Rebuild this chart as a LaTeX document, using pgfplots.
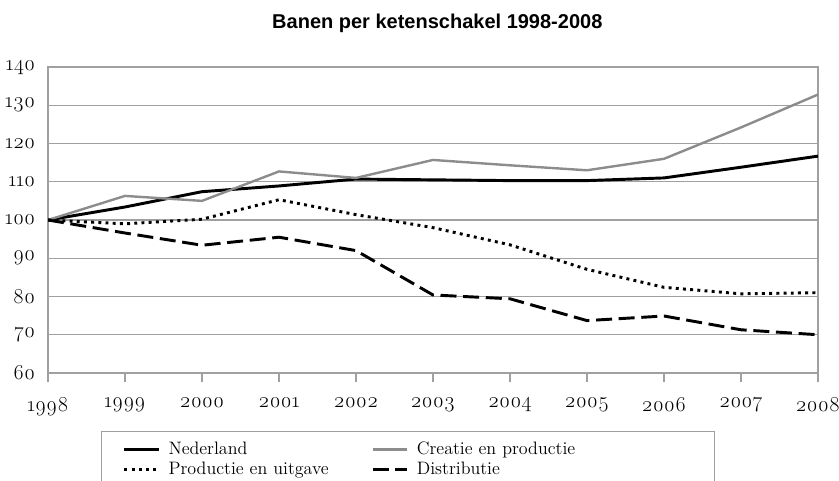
\documentclass[border=0pt]{standalone}
\usepackage{fontspec}
\setmainfont{Latin Modern Roman}[Numbers=OldStyle]
\newfontfamily\titlefont{Liberation Sans}
\usepackage{pgfplots}
\pgfplotsset{compat=1.18}
\definecolor{gridgray}{RGB}{160,160,160}
\definecolor{linegray}{RGB}{140,140,140}
\begin{document}
\begin{tikzpicture}
\begin{axis}[
  scale only axis,
  width=577.5pt, height=229.5pt,
  at={(36pt,81pt)}, anchor=south west,
  xmin=1998, xmax=2008, ymin=60, ymax=140,
  xtick={1998,...,2008}, ytick={60,70,...,140},
  xtick pos=lower,
  /pgf/number format/assume math mode=true,
  xticklabel={\pgfmathprintnumber[1000 sep={}]{\tick}},
  yticklabel={\pgfmathprintnumber{\tick}},
  ticklabel style={font=\fontsize{16}{18}\selectfont},
  axis line style={gridgray, line width=1pt},
  ymajorgrids, major grid style={gridgray, line width=1pt},
  xtick style={gridgray, line width=1pt},
  ytick style={draw=none},
  x tick label style={yshift=-8pt},
  y tick label style={xshift=1pt},
  tick align=outside, major tick length=7pt,
  legend columns=2,
  legend cell align=left,
  legend style={
    at={(0.0688,-0.1895)}, anchor=north west,
    draw=gridgray, line width=1pt,
    font=\fontsize{13.5}{15}\selectfont,
    inner xsep=16pt, inner ysep=6pt,
    row sep=0pt,
    /tikz/column 1/.style={column sep=4pt},
    /tikz/column 2/.style={column sep=0pt, nodes={text width=150pt}},
    /tikz/column 3/.style={column sep=4pt},
    /tikz/column 4/.style={nodes={text width=205pt}},
  },
  legend image code/.code={\draw[#1] (0pt,0pt) -- (26pt,0pt);},
]
\addplot[black, line width=2.2pt] coordinates {
(1998,100) (1999,103.4) (2000,107.4) (2001,108.9) (2002,110.7) (2003,110.5) (2004,110.3) (2005,110.3) (2006,111.0) (2007,113.8) (2008,116.7)};
\addlegendentry{Nederland}
\addplot[linegray, line width=1.8pt] coordinates {
(1998,100) (1999,106.3) (2000,105.0) (2001,112.7) (2002,111.0) (2003,115.7) (2004,114.3) (2005,113.0) (2006,116.0) (2007,124.2) (2008,132.8)};
\addlegendentry{Creatie en productie}
\addplot[black, line width=2.2pt, dash pattern=on 2.2pt off 3.2pt] coordinates {
(1998,100) (1999,99.0) (2000,100.2) (2001,105.3) (2002,101.4) (2003,98.0) (2004,93.5) (2005,87.1) (2006,82.4) (2007,80.7) (2008,81.0)};
\addlegendentry{Productie en uitgave}
\addplot[black, line width=2.2pt, dash pattern=on 12pt off 5pt] coordinates {
(1998,100) (1999,96.6) (2000,93.4) (2001,95.5) (2002,92.0) (2003,80.4) (2004,79.4) (2005,73.7) (2006,74.9) (2007,71.3) (2008,70.0)};
\addlegendentry{Distributie}
\end{axis}
\node[font=\titlefont\bfseries\fontsize{15}{17}\selectfont] at (328pt,343pt) {Banen per ketenschakel 1998-2008};
\pgfresetboundingbox
\useasboundingbox (0,0) rectangle (629.25pt,360.75pt);
\end{tikzpicture}
\end{document}
